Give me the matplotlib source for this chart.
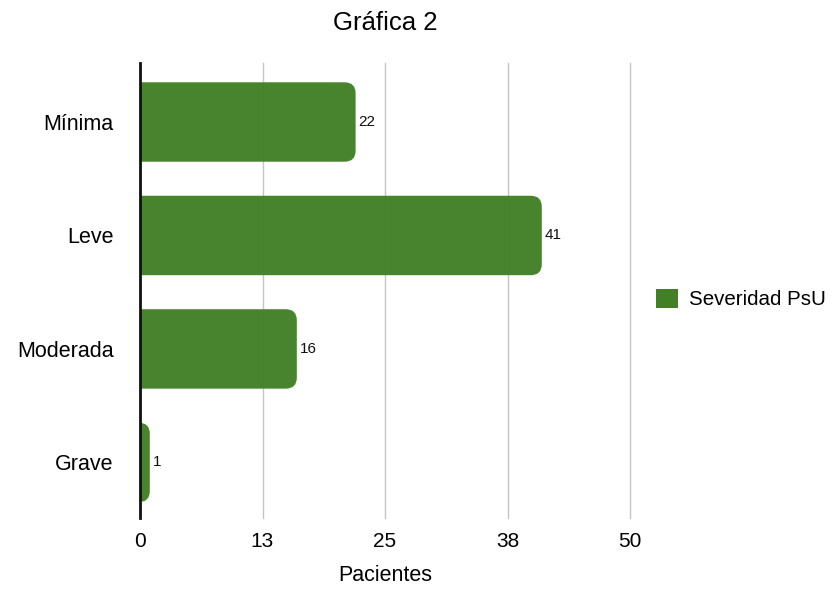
#!/usr/bin/env python3

import matplotlib
matplotlib.use("Agg")
import matplotlib.pyplot as plt
from matplotlib.patches import FancyBboxPatch, Patch

plt.rcParams['font.family'] = ['Liberation Sans', 'DejaVu Sans']

categories = ["Mínima", "Leve", "Moderada", "Grave"]
values = [22, 41, 16, 1]
ticks = [0, 12.5, 25, 37.5, 50]
tick_labels = ["0", "13", "25", "38", "50"]
series = "Severidad PsU"
color = "#427f26"

fig = plt.figure(figsize=(8.39, 5.89), dpi=100)
ax = fig.add_axes([140/839, 1-518/589, 490/839, 455/589])

ax.set_xlim(0, 50)
ax.set_ylim(3.49, -0.52)

# px -> data scale, for round corners that look circular
xpp = 50/490
ypp = 4.01/455
r = 11*xpp
h = 0.70
for i, v in enumerate(values):
    p = FancyBboxPatch((-r*2, i - h/2), v + r*2, h,
                       boxstyle=f"round,pad=0,rounding_size={r}",
                       mutation_aspect=ypp/xpp,
                       fc=color, ec="none", alpha=0.97, zorder=2)
    ax.add_patch(p)
    ax.text(v + 0.3, i, str(v), va="center", ha="left", fontsize=11, color="#111111")

ax.set_yticks(range(len(categories)))
ax.set_yticklabels(categories, fontsize=15.5)
ax.set_xticks(ticks)
ax.set_xticklabels(tick_labels, fontsize=15)
ax.tick_params(axis='y', length=0, pad=19)
ax.tick_params(axis='x', length=0, pad=10)
for s in ["top", "right", "bottom"]:
    ax.spines[s].set_visible(False)
ax.spines["left"].set_linewidth(2)
ax.spines["left"].set_color("#111111")
ax.spines["left"].set_zorder(4)
ax.set_axisbelow(True)
ax.grid(axis='x', color="#c4c4c4", lw=1)
for gl in ax.get_xgridlines():
    gl.set_clip_on(False)

ax.set_xlabel("Pacientes", fontsize=15.5, labelpad=10)
fig.text(385/839, 1-23/589, "Gráfica 2", ha="center", va="center", fontsize=18.5)

fig.legend(handles=[Patch(fc=color, ec="none", label=series)],
           loc="center left", bbox_to_anchor=(637/839, 1-299/589),
           frameon=False, fontsize=14.8, handlelength=1.1, handleheight=1.1,
           handletextpad=0.55)

fig.savefig("out.png", dpi=100)
